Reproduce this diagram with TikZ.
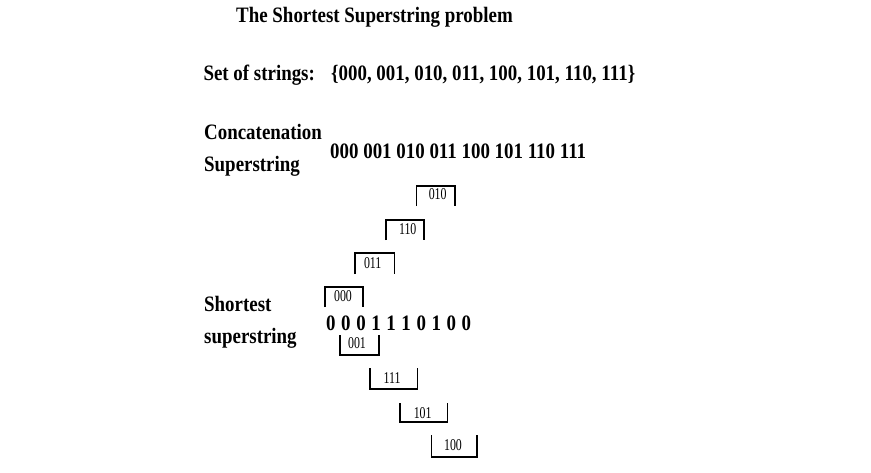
\documentclass[tikz,border=0pt]{standalone}
\usepackage{fontspec}
\setmainfont{Liberation Serif}
\newfontfamily\bigtf[FakeStretch=0.86]{Liberation Serif Bold}
\newfontfamily\smalltf[FakeStretch=0.72]{Liberation Serif}
\begin{document}
\begin{tikzpicture}[x=1pt,y=-1pt,
  txt/.style={anchor=base west,inner sep=0pt,font=\bigtf\fontsize{22}{22}\selectfont},
  lbl/.style={inner sep=0pt,font=\smalltf\fontsize{16.5}{16.5}\selectfont},
  brk/.style={line width=1.3pt,black}]
\useasboundingbox[fill=white] (0,0) rectangle (871,472);
% headings
\node[txt] (title) at (236,22.7) {The Shortest Superstring problem};
\node[txt] (setlab) at (203.3,80.5) {Set of strings:};
\node[txt] (setval) at (331,80.5) {\{000, 001, 010, 011, 100, 101, 110, 111\}};
\node[txt] (conc1) at (204,139) {Concatenation};
\node[txt] (conc2) at (204,171) {Superstring};
\node[txt] (concval) at (330,158.3) {000 001 010 011 100 101 110 111};
\node[txt] (short1) at (204,311.7) {Shortest};
\node[txt] (short2) at (204,343.3) {superstring};
\node[txt] (shortval) at (326,330) {0\hspace{5.6pt}0\hspace{5.6pt}0\hspace{5.6pt}1\hspace{5.6pt}1\hspace{5.6pt}1\hspace{5.6pt}0\hspace{5.6pt}1\hspace{5.6pt}0\hspace{5.6pt}0};
% upper brackets (open at bottom)
\draw[brk] (416.5,206) -- (416.5,186) -- (455,186) -- (455,206);
\node[lbl] (l010) at (437.7,194.5) {010};
\draw[brk] (386,240) -- (386,220) -- (424,220) -- (424,240);
\node[lbl] (l110) at (407.7,229.5) {110};
\draw[brk] (355,274) -- (355,253) -- (394.5,253) -- (394.5,274);
\node[lbl] (l011) at (372.7,263.5) {011};
\draw[brk] (325,307) -- (325,287) -- (363,287) -- (363,307);
\node[lbl] (l000) at (343,296.5) {000};
% lower brackets (open at top)
\draw[brk] (340,335) -- (340,355) -- (379,355) -- (379,335);
\node[lbl] (l001) at (357,343.5) {001};
\draw[brk] (370,368) -- (370,389) -- (417.5,389) -- (417.5,368);
\node[lbl] (l111) at (392,378.5) {111};
\draw[brk] (400,403) -- (400,422) -- (447.5,422) -- (447.5,403);
\node[lbl] (l101) at (422.7,413.5) {101};
\draw[brk] (431.5,435) -- (431.5,457) -- (477,457) -- (477,435);
\node[lbl] (l100) at (453,445.5) {100};
\end{tikzpicture}
\end{document}
